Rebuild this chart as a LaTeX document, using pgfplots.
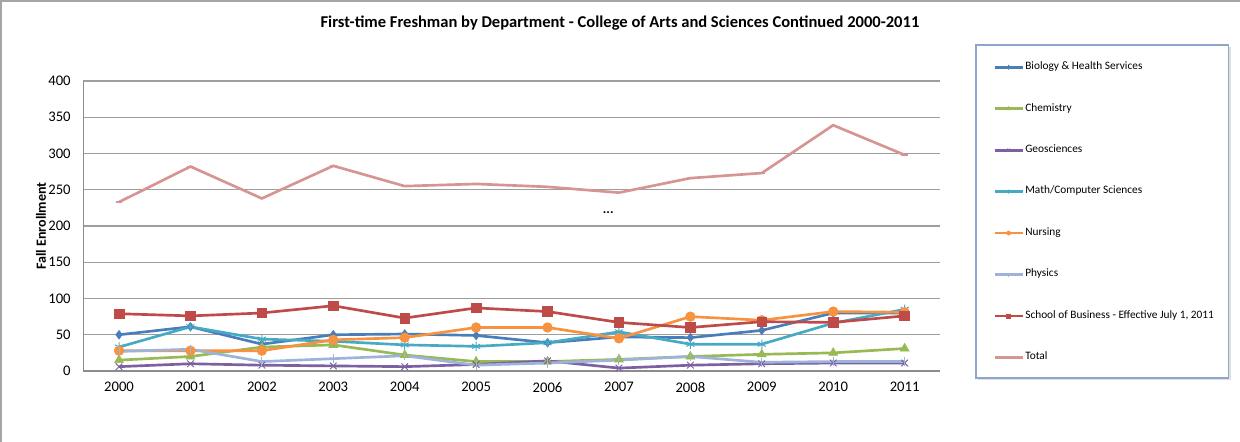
\documentclass[border=0pt]{standalone}
\usepackage{pgfplots}
\pgfplotsset{compat=1.18}
\usepackage{fontspec}
\setmainfont{Carlito}
\definecolor{cbio}{HTML}{4A7EBB}
\definecolor{cchem}{HTML}{98B954}
\definecolor{cgeo}{HTML}{7D60A0}
\definecolor{cmath}{HTML}{46AAC5}
\definecolor{cnurs}{HTML}{F69240}
\definecolor{cphys}{HTML}{9DB3DB}
\definecolor{cbus}{HTML}{BE4B48}
\definecolor{ctot}{HTML}{D69593}
\definecolor{legborder}{HTML}{8EA6CC}
\begin{document}
\begin{tikzpicture}[x=1pt,y=1pt]
\useasboundingbox (0,0) rectangle (930,331.5);
\draw[black!35, line width=0.9pt] (0.8,0) -- (0.8,330.8) -- (930,330.8);
\node[font=\bfseries\fontsize{12.4}{14}\selectfont] at (465,314.25) {First-time Freshman by Department - College of Arts and Sciences Continued 2000-2011};
% legend box
\draw[black!12, line width=1pt] (733.2,46.7) -- (922.5,46.7) -- (922.5,296.5);
\draw[legborder, line width=0.8pt] (732,297.75) rectangle (921.5,48);
\begin{axis}[
  at={(62.5pt,53.25pt)}, anchor=south west,
  scale only axis, width=642.75pt, height=217.5pt,
  xmin=-0.5, xmax=11.5, ymin=0, ymax=400,
  xtick={0,...,11},
  xticklabels={2000,2001,2002,2003,2004,2005,2006,2007,2008,2009,2010,2011},
  ytick={0,50,...,400},
  major tick length=0pt,
  axis lines*=left,
  axis line style={-, black!45, line width=0.8pt},
  ymajorgrids, major grid style={black!38, line width=0.8pt},
  tick label style={font=\fontsize{11}{13}\selectfont},
  /pgf/number format/assume math mode=true,
  xticklabel style={yshift=-5pt},
  yticklabel style={xshift=-6pt},
  ylabel={Fall Enrollment},
  ylabel style={font=\bfseries\fontsize{10.5}{12}\selectfont, at={(axis description cs:-0.0494,0.5)}, anchor=center},
  clip=false,
  legend style={at={(axis description cs:1.0615,1.0679)}, anchor=north west, draw=none, fill=none,
    inner sep=0pt, row sep=22.6pt, font=\fontsize{8.5}{10}\selectfont,
    nodes={inner sep=1pt, text height=5pt, text depth=1.5pt}},
  legend cell align=left,
  legend image code/.code={\draw[#1] plot coordinates {(0pt,0pt) (10.5pt,0pt) (21pt,0pt)};},
  legend image post style={mark repeat=2, mark phase=2, mark size=1.5pt},
  every axis plot/.append style={line width=2pt},
]
\addplot[color=cbio, mark=diamond*, mark size=3.2pt, mark options={solid, line width=0.5pt}] coordinates {(0,50) (1,61) (2,37) (3,50) (4,51) (5,49) (6,39) (7,47) (8,46) (9,56) (10,80) (11,80)};
\addlegendentry{Biology \& Health Services}
\addplot[color=cchem, mark=triangle*, mark size=3.8pt, mark options={solid, line width=0.5pt}] coordinates {(0,15) (1,20) (2,33) (3,36) (4,22) (5,13) (6,13) (7,16) (8,20) (9,23) (10,25) (11,31)};
\addlegendentry{Chemistry}
\addplot[color=cgeo, mark=x, mark size=3.5pt, mark options={solid, line width=0.7pt}] coordinates {(0,6) (1,10) (2,8) (3,7) (4,6) (5,9) (6,14) (7,4) (8,8) (9,10) (10,11) (11,11)};
\addlegendentry{Geosciences}
\addplot[color=cmath, mark=asterisk, mark size=3.5pt, mark options={solid, line width=0.7pt}] coordinates {(0,33) (1,61) (2,44) (3,41) (4,36) (5,34) (6,39) (7,54) (8,37) (9,37) (10,66) (11,85)};
\addlegendentry{Math/Computer Sciences}
\addplot[color=cnurs, mark=*, mark size=3.6pt, mark options={solid, line width=0.5pt}] coordinates {(0,28) (1,28) (2,28) (3,43) (4,46) (5,60) (6,60) (7,45) (8,75) (9,70) (10,82) (11,81)};
\addlegendentry{Nursing}
\addplot[color=cphys, mark=|, mark size=3.5pt, mark options={solid, line width=0.7pt}] coordinates {(0,27) (1,30) (2,13) (3,17) (4,21) (5,8) (6,11) (7,15) (8,20) (9,12) (10,13) (11,13)};
\addlegendentry{Physics}
\addplot[color=cbus, mark=square*, mark size=3.6pt, mark options={solid, line width=0.5pt}] coordinates {(0,79) (1,76) (2,80) (3,90) (4,73) (5,87) (6,82) (7,67) (8,60) (9,68) (10,67) (11,76)};
\addlegendentry{School of Business - Effective July 1, 2011}
\addplot[color=ctot, mark=-, mark size=2.5pt, mark options={solid, line width=1pt}] coordinates {(0,233) (1,282) (2,238) (3,283) (4,255) (5,258) (6,254) (7,246) (8,266) (9,273) (10,339) (11,298)};
\addlegendentry{Total}
\node[font=\bfseries\fontsize{10}{12}\selectfont] at (axis cs:6.85,219) {...};
\end{axis}
\end{tikzpicture}
\end{document}
